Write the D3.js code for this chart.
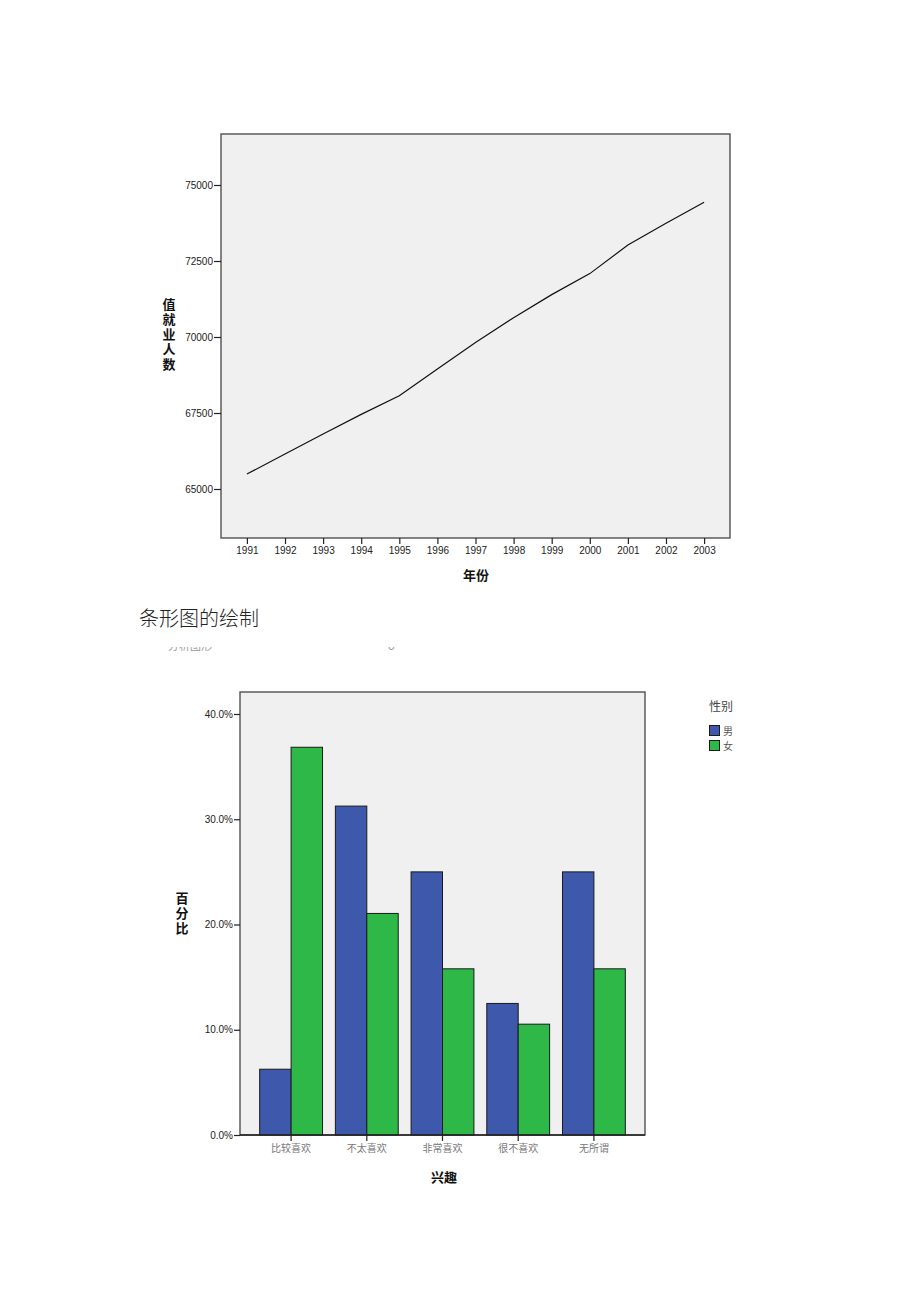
<!DOCTYPE html>
<html><head><meta charset="utf-8">
<script src="https://cdn.jsdelivr.net/npm/d3@7"></script>
<style>
html,body{margin:0;padding:0;background:#fff;}
svg{display:block;}
.vt{writing-mode:vertical-rl;text-orientation:upright;}
</style></head>
<body>
<script>
// ---- Data: line chart ----
const years = [1991,1992,1993,1994,1995,1996,1997,1998,1999,2000,2001,2002,2003];
const employed = [65491,66152,66808,67455,68065,68950,69820,70637,71394,72085,73025,73740,74432];
const lineYTicks = [65000,67500,70000,72500,75000];

// ---- Data: bar chart ----
const interests = ["比较喜欢","不太喜欢","非常喜欢","很不喜欢","无所谓"];
const genders = ["男","女"];
const malePct = [6.25,31.25,25.0,12.5,25.0];
const femalePct = [36.84,21.05,15.79,10.53,15.79];
const barYTicks = [0,10,20,30,40];
const genderColors = ["#3e58ac","#2eb848"];

const W=920,H=1302;
const svg=d3.select("body").append("svg").attr("width",W).attr("height",H);
const numFont="'Liberation Sans', Arial, sans-serif";
const cjk="'Noto Sans CJK SC', sans-serif";

// ================= Chart 1 =================
{
  const L=221,R=730,T=134,B=538;
  const x=d3.scaleLinear().domain([1990.32,2003.68]).range([L,R]);
  const y=d3.scaleLinear().domain([65000,75000]).range([489,185]);
  const g=svg.append("g");
  g.append("rect").attr("x",L).attr("y",T).attr("width",R-L).attr("height",B-T)
    .attr("fill","#f0f0f0").attr("stroke","#444").attr("stroke-width",1.3);
  const yAx=g.append("g").attr("transform",`translate(${L},0)`)
    .call(d3.axisLeft(y).tickValues(lineYTicks).tickSize(7).tickPadding(1).tickFormat(d3.format("d")));
  yAx.select(".domain").remove();
  yAx.selectAll("line").attr("stroke","#222").attr("stroke-width",1.2);
  yAx.selectAll("text").attr("font-family",numFont).attr("font-size",10).attr("fill","#222");
  const xAx=g.append("g").attr("transform",`translate(0,${B})`)
    .call(d3.axisBottom(x).tickValues(years).tickSize(6).tickPadding(3).tickFormat(d3.format("d")));
  xAx.select(".domain").remove();
  xAx.selectAll("line").attr("stroke","#222").attr("stroke-width",1.2);
  xAx.selectAll("text").attr("font-family",numFont).attr("font-size",10).attr("fill","#222");
  const line=d3.line().x((d,i)=>x(years[i])).y(d=>y(d));
  g.append("path").datum(employed).attr("d",line).attr("fill","none")
    .attr("stroke","#111").attr("stroke-width",1.2);
  g.append("text").attr("x",476).attr("y",580).attr("text-anchor","middle")
    .attr("font-family",cjk).attr("font-weight","bold").attr("font-size",13).attr("fill","#111").text("年份");
  g.append("text").attr("class","vt").attr("x",169).attr("y",335).attr("text-anchor","middle")
    .attr("letter-spacing",2)
    .attr("font-family",cjk).attr("font-weight","bold").attr("font-size",13).attr("fill","#111").text("值就业人数");
}

// ================= Heading =================
svg.append("text").attr("x",139).attr("y",626).attr("font-family",cjk).attr("font-weight",300)
  .attr("font-size",20).attr("fill","#222").text("条形图的绘制");
// clipped fragments of a partially visible line
svg.append("clipPath").attr("id","frag").append("rect").attr("x",0).attr("y",647).attr("width",W).attr("height",5);
const fr=svg.append("g").attr("clip-path","url(#frag)");
fr.append("text").attr("x",168).attr("y",650).attr("font-family",cjk).attr("font-size",11).attr("fill","#999").text("分析图形");
fr.append("text").attr("x",388).attr("y",650).attr("font-family",cjk).attr("font-size",11).attr("fill","#999").text("o");

// ================= Chart 2 =================
{
  const L=240,R=645,T=692,B=1135;
  const x0=d3.scaleBand().domain(interests).range([L,R]).paddingInner(0.17).paddingOuter(0.26);
  const x1=d3.scaleBand().domain(genders).range([0,x0.bandwidth()]);
  const y=d3.scaleLinear().domain([0,40]).range([B,714]);
  const g=svg.append("g");
  g.append("rect").attr("x",L).attr("y",T).attr("width",R-L).attr("height",B-T)
    .attr("fill","#f0f0f0").attr("stroke","#444").attr("stroke-width",1.3);
  const series=[malePct,femalePct];
  interests.forEach((c,ci)=>{
    genders.forEach((gd,gi)=>{
      const v=series[gi][ci];
      g.append("rect").attr("x",x0(c)+x1(gd)).attr("y",y(v))
        .attr("width",x1.bandwidth()).attr("height",y(0)-y(v))
        .attr("fill",genderColors[gi]).attr("stroke","#1a1a1a").attr("stroke-width",1);
    });
  });
  g.append("line").attr("x1",L).attr("x2",R).attr("y1",B).attr("y2",B).attr("stroke","#222").attr("stroke-width",1.5);
  const yAx=g.append("g").attr("transform",`translate(${L},0)`)
    .call(d3.axisLeft(y).tickValues(barYTicks).tickSize(6).tickPadding(1).tickFormat(d=>d.toFixed(1)+"%"));
  yAx.select(".domain").remove();
  yAx.selectAll("line").attr("stroke","#222").attr("stroke-width",1.2);
  yAx.selectAll("text").attr("font-family",numFont).attr("font-size",10).attr("fill","#222");
  const xAx=g.append("g").attr("transform",`translate(0,${B})`)
    .call(d3.axisBottom(x0).tickSize(6).tickPadding(4));
  xAx.select(".domain").remove();
  xAx.selectAll("line").attr("stroke","#222").attr("stroke-width",1.2);
  xAx.selectAll("text").attr("font-family",cjk).attr("font-size",10).attr("fill","#777");
  g.append("text").attr("x",444).attr("y",1182).attr("text-anchor","middle")
    .attr("font-family",cjk).attr("font-weight","bold").attr("font-size",13).attr("fill","#111").text("兴趣");
  g.append("text").attr("class","vt").attr("x",182).attr("y",914).attr("text-anchor","middle")
    .attr("letter-spacing",2)
    .attr("font-family",cjk).attr("font-weight","bold").attr("font-size",13).attr("fill","#111").text("百分比");
  // legend
  const lg=g.append("g");
  lg.append("text").attr("x",709).attr("y",711).attr("font-family",cjk).attr("font-size",12).attr("fill","#444").text("性别");
  genders.forEach((gd,i)=>{
    lg.append("rect").attr("x",709.5).attr("y",725.5+i*15).attr("width",10).attr("height",10)
      .attr("fill",genderColors[i]).attr("stroke","#1a1a1a").attr("stroke-width",1);
    lg.append("text").attr("x",723).attr("y",734.5+i*15).attr("font-family",cjk).attr("font-size",10)
      .attr("fill","#555").text(gd);
  });
}
</script>
</body></html>
